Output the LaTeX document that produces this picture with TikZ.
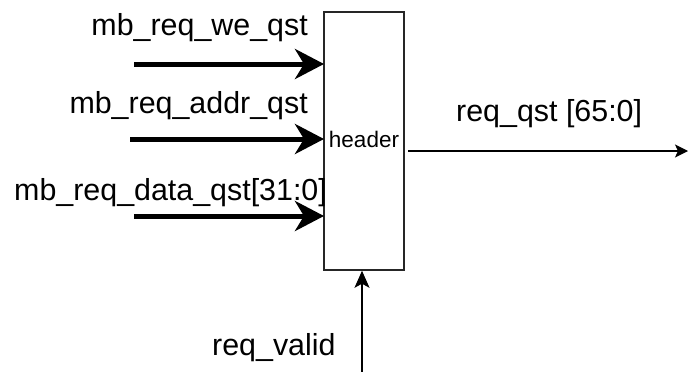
\documentclass[tikz,border=0pt]{standalone}
\usepackage{fontspec}
\setmainfont{Liberation Sans}
\usetikzlibrary{arrows.meta}
\begin{document}
\begin{tikzpicture}[x=1pt,y=-1pt,
  sig/.style={font=\fontsize{30.4}{34}\selectfont, inner sep=0pt},
  busarrow/.style={line width=5pt, -{Stealth[length=29pt,width=30pt,inset=9pt]}},
  thinarrow/.style={line width=1.5pt, -{Stealth[length=13pt,width=13pt,inset=3pt]}},
  validarrow/.style={line width=1.5pt, -{Stealth[length=17pt,width=15pt,inset=4pt]}},
  blockbox/.style={draw=black!85, line width=1.5pt, minimum width=80pt, minimum height=258pt, inner sep=0pt}]
\useasboundingbox (0,0) rectangle (688,372);
\node[blockbox] (hdr) at (364,141) {};
\node[font=\fontsize{22.5}{26}\selectfont, inner sep=0pt, anchor=base] (hdrtxt) at (364,147) {header};
\coordinate (s1) at (134,64);
\coordinate (s2) at (130,139);
\coordinate (s3) at (134,216);
\coordinate (e1) at (324,64);
\coordinate (e2) at (324,139);
\coordinate (e3) at (324,216);
\draw[busarrow] (s1) -- (e1);
\draw[busarrow] (s2) -- (e2);
\draw[busarrow] (s3) -- (e3);
\node[sig, anchor=base east] (l1) at (308,35) {mb\_req\_we\_qst};
\node[sig, anchor=base east] (l2) at (308,113) {mb\_req\_addr\_qst};
\node[sig, anchor=base west] (l3) at (14,200) {mb\_req\_data\_qst[31:0]};
\coordinate (o1) at (408,151);
\coordinate (o2) at (688,151);
\draw[thinarrow] (o1) -- (o2);
\node[sig, anchor=base west] (lo) at (456,121) {req\_qst [65:0]};
\coordinate (v1) at (362,372);
\draw[validarrow] (v1) -- (hdr.south -| v1);
\node[sig, anchor=base west] (lv) at (212,355) {req\_valid};
\end{tikzpicture}
\end{document}
